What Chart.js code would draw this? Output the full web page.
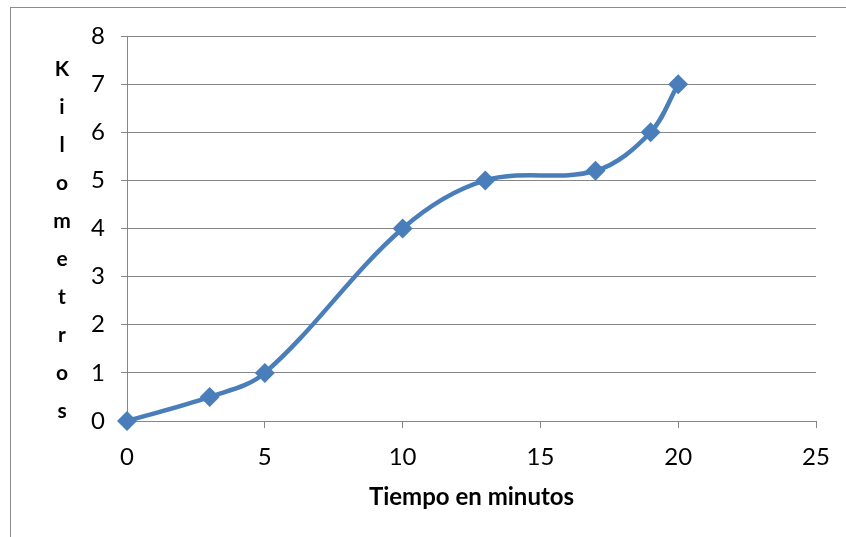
<!DOCTYPE html>
<html>
<head>
<meta charset="utf-8">
<script src="https://cdn.jsdelivr.net/npm/chart.js@4"></script>
<style>
  html, body { margin: 0; padding: 0; background: #fff; }
  #wrap { position: relative; width: 846px; height: 537px; }
  #frame { position: absolute; left: 10px; top: 7px; right: -2px; bottom: -2px; border: 1px solid #8c8c8c; }
  canvas { position: absolute; left: 0; top: 0; }
</style>
</head>
<body>
<div id="wrap">
  <div id="frame"></div>
  <canvas id="chart" width="846" height="537"></canvas>
</div>
<script>
// datos del grafico
const minutos = [0, 3, 5, 10, 13, 17, 19, 20];
const kilometros = [0, 0.5, 1, 4, 5, 5.2, 6, 7];
const yTitle = 'Kilometros';
const xTitle = 'Tiempo en minutos';

const FONT = 'Lato, "Liberation Sans", sans-serif';

// titulo vertical letra por letra
const verticalTitle = {
    id: 'verticalTitle',
    afterDraw(chart) {
        const ctx = chart.ctx;
        const area = chart.chartArea;
        ctx.save();
        ctx.font = 'bold 21px ' + FONT;
        ctx.fillStyle = '#000';
        ctx.textAlign = 'center';
        ctx.textBaseline = 'middle';
        const letters = yTitle.split('');
        letters.forEach((ch, i) => {
            ctx.fillText(ch, 62, area.top + 33 + i * 38);
        });
        ctx.restore();
    }
};

new Chart(document.getElementById('chart'), {
    type: 'line',
    data: {
        datasets: [{
            data: minutos.map((m, i) => ({ x: m, y: kilometros[i] })),
            borderColor: '#4a7ebb',
            backgroundColor: '#4a7ebb',
            borderWidth: 4.5,
            tension: 0.35,
            pointStyle: 'rectRot',
            pointRadius: 10,
            pointBorderWidth: 0,
            fill: false,
            clip: false
        }]
    },
    options: {
        responsive: false,
        animation: false,
        layout: { padding: { left: 0, right: 30, top: 36, bottom: 0 } },
        plugins: {
            legend: { display: false },
            tooltip: { enabled: false }
        },
        scales: {
            x: {
                type: 'linear',
                min: 0,
                max: 25,
                ticks: { stepSize: 5, color: '#000', padding: 15, font: { family: FONT, size: 24 } },
                grid: { drawOnChartArea: false, color: '#868686', tickLength: 7, tickColor: '#868686' },
                border: { color: '#868686', width: 1 },
                title: {
                    display: true,
                    text: xTitle,
                    color: '#000',
                    font: { family: FONT, size: 24, weight: 'bold' },
                    padding: { top: 0, bottom: 25 }
                },
                afterFit(scale) { scale.height = 116; }
            },
            y: {
                min: 0,
                max: 8,
                ticks: { stepSize: 1, color: '#000', padding: 16, font: { family: FONT, size: 24 } },
                grid: { color: '#868686', tickLength: 6, tickColor: '#868686' },
                border: { color: '#868686', width: 1 },
                afterFit(scale) { scale.width = 127; }
            }
        }
    },
    plugins: [verticalTitle]
});
</script>
</body>
</html>
